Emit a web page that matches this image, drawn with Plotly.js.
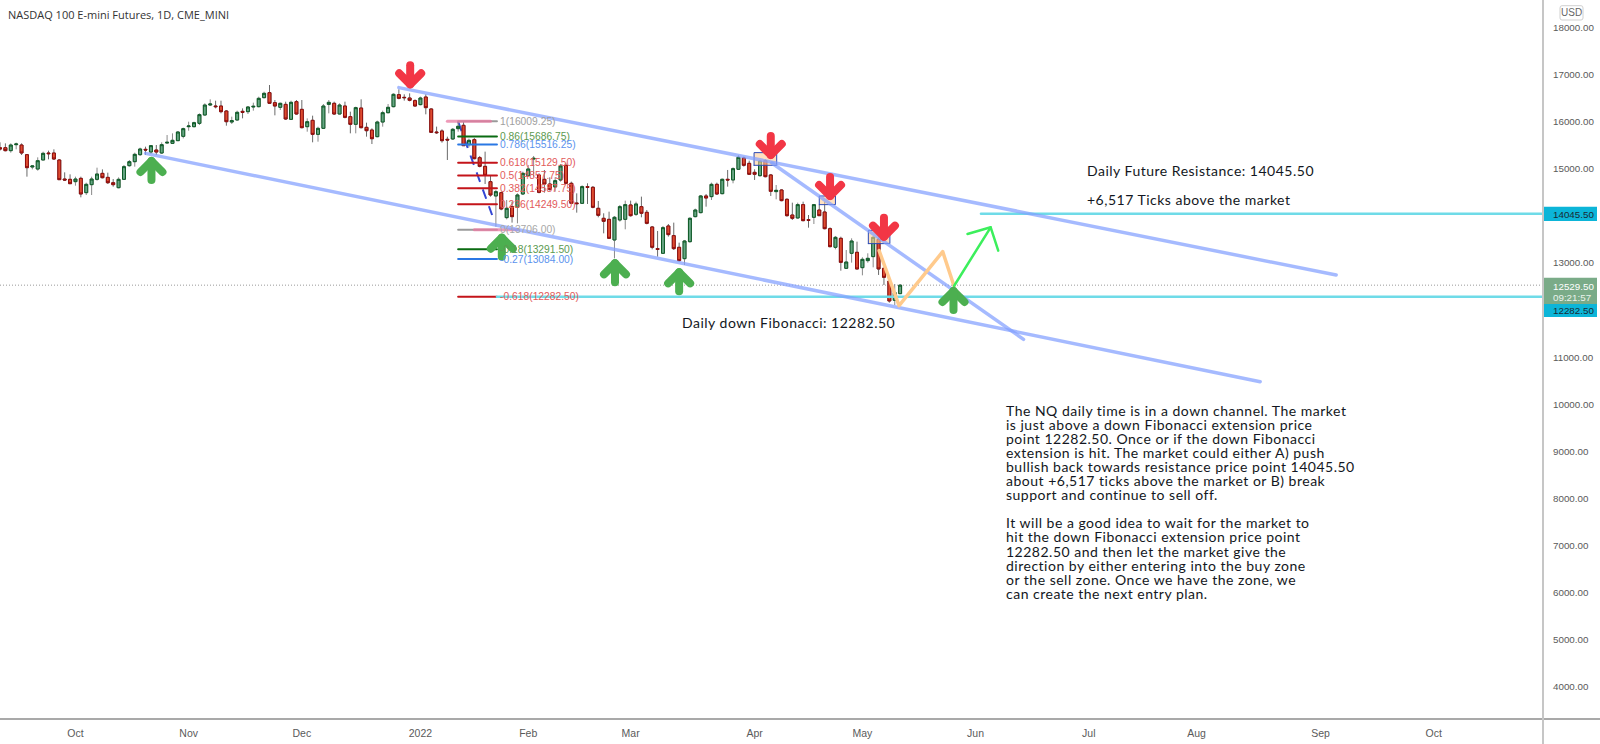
<!DOCTYPE html>
<html><head><meta charset="utf-8">
<script src="https://cdn.plot.ly/plotly-3.0.1.min.js"></script>
<style>
html,body{margin:0;padding:0;background:#fff}
#chart{width:1600px;height:744px}
.scatterlayer .js-line{stroke-linecap:round;stroke-linejoin:round}
.annotation-text[style*="Lato"]{letter-spacing:.5px}
</style></head><body><div id="chart"></div>
<script>
const opens=[15448,15448,15385,15512,15505,15300,15038,14995,15187,15335,15335,15187,14783,14776,14727,14797,14493,14663,14776,14903,14818,14705,14599,14776,15066,15151,15300,15413,15356,15399,15335,15547,15540,15597,15689,15894,15894,15965,16142,16354,16333,16333,16227,15993,16036,16220,16213,16312,16319,16510,16616,16404,16305,16368,16050,16425,16262,15894,16029,15731,15859,16368,16390,16163,16333,16107,15944,16290,15880,15823,15682,15993,16191,16319,16574,16517,16503,16447,16362,16524,16270,15781,15803,15626,15633,15852,15923,15512,15619,15236,15052,14727,14423,14493,13963,14196,14182,14465,14854,15208,14868,14777,14677,14614,14762,15074,14692,14274,14267,14621,14607,14161,13949,13927,13489,13913,13927,14232,14034,14196,14076,13765,13305,13206,13786,13581,13333,13092,13453,13984,14069,14423,14409,14670,14472,14777,14763,14989,15230,15116,14925,14854,15173,14869,14515,14550,14352,14019,13956,14239,13920,13970,14125,14083,13729,13333,13524,12887,13206,13227,12901,13050,13135,13503,12887,12618,12208,12349];
const closes=[15420,15385,15505,15526,15335,15024,15059,15172,15328,15321,15208,14769,14762,14684,14783,14465,14670,14783,14889,14811,14705,14663,14776,15045,15151,15307,15420,15399,15491,15356,15512,15562,15604,15781,15852,15908,15979,16149,16354,16375,16319,16213,16000,16022,16199,16199,16312,16326,16496,16602,16390,16333,16390,16057,16411,16163,15873,16000,15731,15859,16333,16411,16163,16354,16092,15944,16298,15873,15809,15639,15993,16191,16305,16581,16496,16510,16454,16333,16503,16298,15774,15767,15597,15612,15838,15902,15491,15604,15215,15052,14861,14444,14515,14147,14161,13984,14444,14904,14996,15222,14500,14677,14564,14748,15060,14692,14267,14260,14621,14607,14182,14012,13885,13524,13970,14196,14239,14005,14253,14055,13842,13333,13290,13750,13602,13305,13050,13467,13949,14125,14423,14380,14670,14465,14777,14763,15003,15244,15074,14883,14883,15166,14833,14522,14543,14324,14005,13949,14239,13899,13906,14239,14005,13729,13347,13545,13014,13021,13467,12873,13078,13099,13545,12873,12696,12194,12370,12529.5];
const highs=[15562,15540,15540,15555,15540,15314,15059,15243,15363,15385,15413,15208,14925,14882,14833,14833,14705,14833,15024,14988,14918,14783,14818,15080,15187,15342,15448,15470,15505,15505,15562,15717,15753,15802,15873,16000,16000,16177,16390,16475,16446,16446,16248,16107,16234,16283,16333,16404,16531,16637,16779,16460,16404,16425,16446,16460,16460,16071,16128,15894,16375,16460,16425,16390,16425,16213,16319,16475,15979,15859,16022,16234,16375,16602,16687,16581,16602,16475,16532,16581,16284,15895,15838,15682,15866,16001,16001,15640,15654,15272,15364,14868,14550,14515,14338,14302,14479,14939,15081,15272,14904,14975,14819,14819,15102,15116,14727,14479,14649,14692,14635,14317,14055,14090,13998,14232,14324,14324,14302,14409,14125,13786,13680,13786,13828,13857,13432,13489,13970,14154,14444,14465,14706,14706,14791,14975,15031,15286,15258,15173,14989,15187,15201,14890,14656,14564,14373,14281,14281,14302,14019,14253,14232,14302,13757,13574,13559,13276,13524,13453,13121,13206,13574,13545,12908,12639,12554,12554];
const lows=[15385,15370,15342,15413,15293,14833,14988,14960,15187,15201,15187,14762,14741,14677,14642,14394,14443,14443,14748,14797,14677,14620,14585,14762,15045,15045,15272,15293,15314,15293,15314,15540,15526,15590,15646,15809,15880,15930,16128,16333,16283,16177,15915,15951,16022,16071,16163,16234,16305,16496,16375,16135,16248,16036,16036,16149,15859,15788,15562,15576,15845,16177,16142,16156,16071,15753,15753,15859,15682,15526,15668,15894,16177,16305,16475,16447,16432,16319,16348,16156,15760,15739,15555,15187,15612,15788,15484,15456,15201,15031,14677,14408,13771,14120,13927,13857,13842,14444,14833,14833,14479,14493,14536,14515,14727,14677,14253,14069,14253,14253,14161,13970,13630,13510,13099,13878,13715,13984,13998,13970,13821,13290,13135,13191,13560,13276,13029,12958,13432,13970,14055,14196,14338,14444,14458,14621,14692,14975,15046,14869,14763,14833,14819,14423,14352,14310,13984,13913,13941,13885,13750,13828,13998,13715,13333,13290,12837,12873,13007,12866,12738,13007,12908,12746,12533,12158,12108,12342];

const monthLabels=['Oct','Nov','Dec','2022','Feb','Mar','Apr','May','Jun','Jul','Aug','Sep','Oct'];
const monthBars=[14,35,56,78,98,117,140,160,181,202,222,245,266];
const priceTicks=[4000,5000,6000,7000,8000,9000,10000,11000,12000,13000,14000,15000,16000,17000,18000];

const fibLabels=['1(16009.25)','0.86(15686.75)','0.786(15516.25)','0.618(15129.50)','0.5(14857.75)','0.382(14587.75)','0.236(14249.50)','0(13706.00)','-0.18(13291.50)','-0.27(13084.00)','-0.618(12282.50)'];
const fibLevels=[16009.25,15686.75,15516.25,15129.5,14857.75,14587.75,14249.5,13706,13291.5,13084,12282.5];
const fibLineColors=['#9a9a9a','#0a6b12','#2a78e4','#c4141a','#c4141a','#c4141a','#c4141a','#9a9a9a','#0a6b12','#2a78e4','#c4141a'];
const fibTextColors=['#a0a0a0','#5c9a50','#5b93ee','#e25a5a','#e25a5a','#e25a5a','#e25a5a','#a8a8a8','#5c9a50','#5b93ee','#e25a5a'];

const currentPrice=12529.5, resistance=14045.5, support=12282.5;
const upperChannelX=[74,247.9], upperChannelY=[16723,12745];
const lowerChannelX=[27,233.8], lowerChannelY=[15328,10480];
const innerLineX=[143.2,189.9], innerLineY=[15123,11380];
const fibTrendX=[85,91.3], fibTrendY=[16000,14019];
const orangeX=[163.1,166.8,174.9,177], orangeY=[13262,12094,13241,12512];
const greenMoveX=[177,183.8], greenMoveY=[12512,13758];
const greenHeadX=[179.5,183.8,185.2], greenHeadY=[13616,13758,13262];
const boxBars=[[139.9,144.1],[152,155],[161.1,165.1]];
const boxPrices=[[15074,15343],[14239,14423],[13411,13694]];
const upArrowBars=[28.1,93.1,114.1,126,176.9], upArrowTips=[15272,13644,13099,12908,12512];
const downArrowBars=[76.1,143,154,164], downArrowTips=[16687,15187,14317,13453];

const noteLines=['The NQ daily time is in a down channel. The market','is just above a down Fibonacci extension price','point 12282.50. Once or if the down Fibonacci','extension is hit. The market could either A) push','bullish back towards resistance price point 14045.50','about +6,517 ticks above the market or B) break','support and continue to sell off.','','It will be a good idea to wait for the market to','hit the down Fibonacci extension price point','12282.50 and then let the market give the','direction by either entering into the buy zone','or the sell zone. Once we have the zone, we','can create the next entry plan.'];

const W=1543,H=719,pxBar=5.39,pxPrice=21.23;
const yMax=13000+263*pxPrice,yMin=13000-(H-263)*pxPrice;
const bars=opens.map((_,i)=>i);
const px=x=>x/W, py=y=>1-y/H;
const textFont='"Lato","Open Sans",sans-serif';
function line(x,y,color,width,extra){return Object.assign({type:'scatter',mode:'lines',x,y,line:{color,width},hoverinfo:'skip'},extra||{});}
function arrow(bar,tip,dir,color){
  const ox=d=>bar+d/pxBar, oy=d=>tip-dir*d*pxPrice;
  return line([ox(-11),ox(0),ox(11),null,ox(0),ox(0)],[oy(16),oy(5),oy(16),null,oy(5),oy(24)],color,8);
}
const traces=[];
traces.push({type:'candlestick',x:bars,open:opens,high:highs,low:lows,close:closes,
  increasing:{line:{color:'#8a8a8a',width:1},fillcolor:'rgba(0,0,0,0)'},decreasing:{line:{color:'#6a6a6a',width:1},fillcolor:'rgba(0,0,0,0)'},hoverinfo:'skip'});
traces.push({type:'candlestick',x:bars,open:opens,close:closes,
  high:opens.map((o,i)=>Math.max(o,closes[i])),low:opens.map((o,i)=>Math.min(o,closes[i])),
  increasing:{line:{color:'#0d5a26',width:1},fillcolor:'#66a583'},decreasing:{line:{color:'#8f0c0c',width:1},fillcolor:'#dd4b30'},hoverinfo:'skip'});
boxBars.forEach((b,i)=>{
  const p=boxPrices[i];
  traces.push({type:'scatter',mode:'lines',x:[b[0],b[1],b[1],b[0],b[0]],y:[p[0],p[0],p[1],p[1],p[0]],fill:'toself',fillcolor:'rgba(255,205,150,0.6)',line:{color:'#2a49b5',width:1},hoverinfo:'skip'});
});
const fibX0=85,fibX1=92.2;
fibLevels.forEach((v,i)=>traces.push(line([fibX0,fibX1],[v,v],fibLineColors[i],2)));
traces.push(line([83,91],[fibLevels[0],fibLevels[0]],'rgba(232,120,160,0.75)',3));
traces.push(line([88,96],[fibLevels[7],fibLevels[7]],'rgba(232,120,160,0.75)',3));
traces.push(line([92.2,W/pxBar],[support,support],'#6fdbe8',2.5));
traces.push(line([182,W/pxBar],[resistance,resistance],'#6fdbe8',2.5));
const chan='rgba(130,160,255,0.72)';
traces.push(line(upperChannelX,upperChannelY,chan,3.5));
traces.push(line(lowerChannelX,lowerChannelY,chan,3.5));
traces.push(line(innerLineX,innerLineY,chan,3.5));
traces.push(line(orangeX,orangeY,'#ffca8c',3.5));
traces.push(line(greenMoveX,greenMoveY,'#3cef5c',2.5));
traces.push(line(greenHeadX,greenHeadY,'#3cef5c',2.5));
upArrowBars.forEach((b,i)=>traces.push(arrow(b,upArrowTips[i],1,'#4caf50')));
downArrowBars.forEach((b,i)=>traces.push(arrow(b,downArrowTips[i],-1,'#f23645')));

const shapes=[
 {type:'line',xref:'x',yref:'y',x0:0,x1:W/pxBar,y0:currentPrice,y1:currentPrice,line:{color:'#9a9a9a',width:1,dash:'1px,2px'},layer:'below'},
 {type:'line',xref:'x',yref:'y',x0:fibTrendX[0],x1:fibTrendX[1],y0:fibTrendY[0],y1:fibTrendY[1],line:{color:'#3346d3',width:2,dash:'10px,8px'},layer:'below'},
 {type:'line',xref:'paper',yref:'paper',x0:0,x1:1600/W,y0:0,y1:0,line:{color:'#8c8c8c',width:1.5}},
 {type:'line',xref:'paper',yref:'paper',x0:1,x1:1,y0:py(744),y1:1,line:{color:'#c6c6c6',width:2}},
 {type:'rect',xref:'paper',yref:'paper',x0:px(1544),x1:px(1597),y0:py(221),y1:py(206.7),fillcolor:'#0cb5d8',line:{width:0}},
 {type:'rect',xref:'paper',yref:'paper',x0:px(1544),x1:px(1597),y0:py(304),y1:py(277.7),fillcolor:'#7aab88',line:{width:0}},
 {type:'rect',xref:'paper',yref:'paper',x0:px(1544),x1:px(1597),y0:py(317),y1:py(304),fillcolor:'#0cb5d8',line:{width:0}},
 {type:'path',xref:'paper',yref:'paper',path:`M ${px(1562)} ${py(5.7)} L ${px(1581)} ${py(5.7)} Q ${px(1583)} ${py(5.7)} ${px(1583)} ${py(8)} L ${px(1583)} ${py(18)} Q ${px(1583)} ${py(20)} ${px(1581)} ${py(20)} L ${px(1562)} ${py(20)} Q ${px(1560)} ${py(20)} ${px(1560)} ${py(18)} L ${px(1560)} ${py(8)} Q ${px(1560)} ${py(5.7)} ${px(1562)} ${py(5.7)} Z`,line:{color:'#d0d0d0',width:1}}
];

const ann=[];
function pxText(text,x,y,size,color,family,xanchor){ann.push({xref:'paper',yref:'paper',x:px(x),y:py(y),text,showarrow:false,xanchor:xanchor||'left',yanchor:'middle',font:{size,color,family},borderpad:0});}
const tickFamily='"Liberation Sans",sans-serif';
pxText('NASDAQ 100 E-mini Futures, 1D, CME_MINI',7,15,11,'#333333','"Open Sans",sans-serif');
pxText('USD',1571.5,13,10,'#666666',tickFamily,'center');
pxText('14045.50',1552,214,9.8,'#1a2a33',tickFamily);
pxText('12529.50',1552,286,9.8,'#ffffff',tickFamily);
pxText('09:21:57',1552,297,9.8,'#eaf3ec',tickFamily);
pxText('12282.50',1552,310,9.8,'#1a2a33',tickFamily);
pxText('Daily Future Resistance: 14045.50',1086,170.7,14,'#131722',textFont);
pxText('+6,517 Ticks above the market',1086,199.3,14,'#131722',textFont);
pxText('Daily down Fibonacci: 12282.50',681,322.7,14,'#131722',textFont);
noteLines.forEach((t,i)=>{if(t)pxText(t,1005,410+i*14.1,14,'#131722',textFont);});
fibLabels.forEach((t,i)=>ann.push({xref:'x',yref:'y',x:92.6,y:fibLevels[i],text:t,showarrow:false,xanchor:'left',yanchor:'middle',font:{size:10.3,color:fibTextColors[i],family:tickFamily},borderpad:0}));

Plotly.newPlot('chart',traces,{
  width:1600,height:744,margin:{l:0,r:57,t:0,b:25,pad:0},boxgap:0.22,
  paper_bgcolor:'#ffffff',plot_bgcolor:'#ffffff',showlegend:false,hovermode:false,
  xaxis:{type:'linear',range:[0,W/pxBar],rangeslider:{visible:false},tickmode:'array',tickvals:monthBars,ticktext:monthLabels,
    showgrid:false,zeroline:false,showline:false,ticks:'',tickfont:{size:10.5,color:'#5a5a5a',family:tickFamily},ticklabelstandoff:6},
  yaxis:{side:'right',range:[yMin,yMax],tickmode:'array',tickvals:priceTicks,ticktext:priceTicks.map(v=>v.toFixed(2)),
    showgrid:false,zeroline:false,showline:false,ticks:'',tickfont:{size:9.8,color:'#5a5a5a',family:tickFamily},ticklabelstandoff:9},
  shapes,annotations:ann
},{displayModeBar:false,staticPlot:true});
</script></body></html>
